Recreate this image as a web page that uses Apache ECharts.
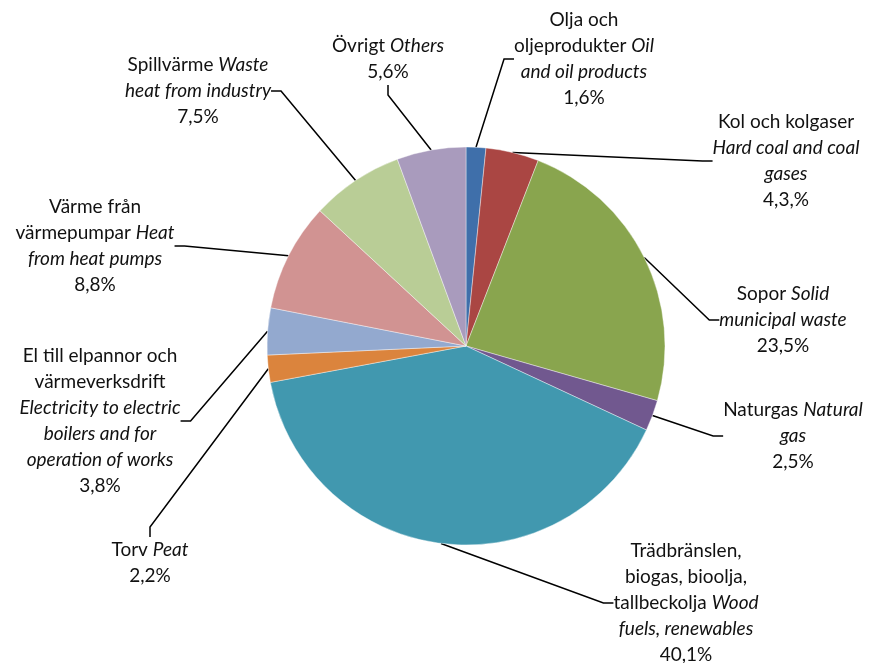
<!DOCTYPE html>
<html>
<head>
<meta charset="utf-8">
<script src="https://cdn.jsdelivr.net/npm/echarts@6/dist/echarts.min.js"></script>
<style>
  html, body { margin: 0; padding: 0; background: #fff; }
  #chart { width: 874px; height: 663px; }
</style>
</head>
<body>
<div id="chart"></div>
<script>
  // andelar i procent, medurs från kl 12
  const categories = [
    "Olja och oljeprodukter", "Kol och kolgaser", "Sopor", "Naturgas",
    "Trädbränslen, biogas, bioolja, tallbeckolja", "Torv",
    "El till elpannor och värmeverksdrift", "Värme från värmepumpar",
    "Spillvärme", "Övrigt"
  ];
  const values = [1.6, 4.3, 23.5, 2.5, 40.1, 2.2, 3.8, 8.8, 7.5, 5.6];
  const pctLabels = ["1,6%", "4,3,%", "23,5%", "2,5%", "40,1%", "2,2%", "3,8%", "8,8%", "7,5%", "5,6%"];
  const colors = ["#3F6FAA", "#AA4643", "#89A54E", "#71588F", "#4198AF",
                  "#DB843D", "#93A9CF", "#D19392", "#B9CD96", "#A99BBD"];

  // label text, {n|} = normal, {i|} = italic
  const labelTexts = [
    "{n|Olja och}\n{n|oljeprodukter }{i|Oil}\n{i|and oil products}",
    "{n|Kol och kolgaser}\n{i|Hard coal and coal}\n{i|gases}",
    "{n|Sopor }{i|Solid}\n{i|municipal waste}",
    "{n|Naturgas }{i|Natural}\n{i|gas}",
    "{n|Trädbränslen,}\n{n|biogas, bioolja,}\n{n|tallbeckolja }{i|Wood}\n{i|fuels, renewables}",
    "{n|Torv }{i|Peat}",
    "{n|El till elpannor och}\n{n|värmeverksdrift}\n{i|Electricity to electric}\n{i|boilers and for}\n{i|operation of works}",
    "{n|Värme från}\n{n|värmepumpar }{i|Heat}\n{i|from heat pumps}",
    "{n|Spillvärme }{i|Waste}\n{i|heat from industry}",
    "{n|Övrigt }{i|Others}"
  ];

  // label block centres
  const labelPos = [
    [584, 59], [786, 161], [783, 320], [793, 436], [686, 603],
    [150, 563], [100, 421], [95, 246], [198, 91], [388, 59]
  ];

  const chart = echarts.init(document.getElementById("chart"));

  const font = "Lato, 'Open Sans', sans-serif";
  const option = {
    animation: false,
    color: colors,
    series: [{
      type: "pie",
      center: [466, 346],
      radius: 199,
      startAngle: 90,
      clockwise: true,
      avoidLabelOverlap: false,
      data: categories.map((c, i) => ({ name: c, value: values[i] })),
      itemStyle: { borderColor: "#fff", borderWidth: 0.4 },
      label: {
        show: true,
        position: "outside",
        color: "#000",
        fontFamily: font,
        fontSize: 19,
        lineHeight: 26,
        align: "center",
        formatter: (p) => labelTexts[p.dataIndex] + "\n{n|" + pctLabels[p.dataIndex] + "}",
        rich: {
          n: { fontFamily: font, fontSize: 19, lineHeight: 26, color: "#111" },
          i: { fontFamily: font, fontSize: 19, lineHeight: 26, color: "#111", fontStyle: "italic" }
        }
      },
      labelLine: {
        show: true,
        length: 10,
        length2: 10,
        lineStyle: { color: "#000", width: 1.5 }
      },
      labelLayout: (params) => {
        const p = labelPos[params.dataIndex];
        return { x: p[0], y: p[1], align: "center", verticalAlign: "middle", hideOverlap: false };
      },
      emphasis: { disabled: true }
    }]
  };

  chart.setOption(option);
</script>
</body>
</html>
